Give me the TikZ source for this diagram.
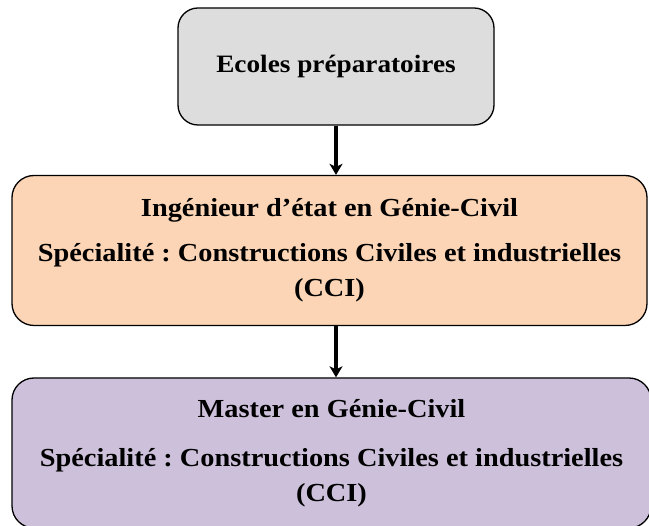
\documentclass[tikz,border=0pt]{standalone}
\usepackage{fontspec}
\setmainfont{Liberation Serif}[FakeStretch=1.09]
\usetikzlibrary{arrows.meta}
\definecolor{grayfill}{HTML}{DDDDDD}
\definecolor{peach}{HTML}{FBD5B5}
\definecolor{lavender}{HTML}{CCC0DA}
\frenchspacing
\begin{document}
\begin{tikzpicture}[x=1pt,y=-1pt,
  box/.style={draw=black, line width=1.3pt, rounded corners=22pt, align=center,
    font=\bfseries\fontsize{26}{35}\selectfont, inner sep=0pt},
  link/.style={line width=3.6pt, -{Stealth[length=11pt,width=13pt,inset=3pt]}}]
\useasboundingbox (0,0) rectangle (649,526);
\node[box, fill=grayfill, minimum width=316pt, minimum height=117pt, rounded corners=20pt,
  font=\bfseries\fontsize{25}{35}\selectfont] (ecoles) at (336,66.5) {Ecoles préparatoires};
\node[box, fill=peach, minimum width=635pt, minimum height=150pt] (inge) at (329.5,250.5)
  {Ingénieur d’état en Génie-Civil\\[10pt]Spécialité : Constructions Civiles et industrielles\\(CCI)};
\node[box, fill=lavender, minimum width=639pt, minimum height=150pt] (master) at (331.5,453)
  {Master en Génie-Civil\\[14pt]Spécialité : Constructions Civiles et industrielles\\(CCI)};
\draw[link] (ecoles.south) -- (ecoles.south |- inge.north);
\draw[link] (inge.south -| ecoles.south) -- (master.north -| ecoles.south);
\end{tikzpicture}
\end{document}
